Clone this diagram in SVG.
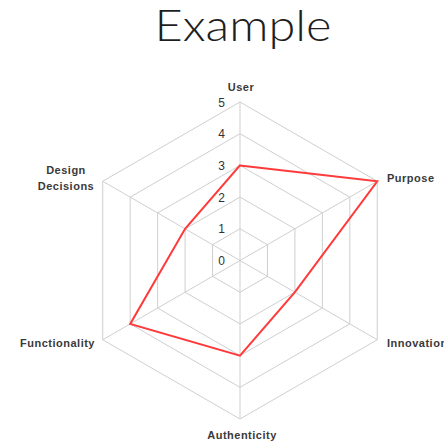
<svg xmlns="http://www.w3.org/2000/svg" width="444" height="443" viewBox="0 0 444 443">
  <style>
    .grid { fill: none; stroke: #cfcfcf; stroke-width: 1; }
    .series { fill: none; stroke: #ff3a3a; stroke-width: 2; stroke-linejoin: miter; }
    .axis-label { font-family: "Liberation Sans", Arial, sans-serif; font-size: 11px; font-weight: bold; fill: #3a3a3a; letter-spacing: 0.5px; }
    .tick { font-family: "Liberation Sans", Arial, sans-serif; font-size: 12px; fill: #333; text-anchor: end; }
    .title { font-family: "Lato", "DejaVu Sans", sans-serif; font-weight: 300; font-size: 43px; fill: #1e1e1e; text-anchor: middle; }
  </style>
  <rect width="444" height="443" fill="#ffffff"/>

  <!-- title -->
  <text class="title" x="243" y="40.7" textLength="177" lengthAdjust="spacingAndGlyphs">Example</text>

  <!-- radar grid: five hexagon rings and six spokes -->
  <g id="grid">
    <polygon class="grid" points="240,228.8 267.45,244.65 267.45,276.35 240,292.2 212.55,276.35 212.55,244.65"/>
    <polygon class="grid" points="240,197.1 294.91,228.8 294.91,292.2 240,323.9 185.09,292.2 185.09,228.8"/>
    <polygon class="grid" points="240,165.4 322.36,212.95 322.36,308.05 240,355.6 157.64,308.05 157.64,212.95"/>
    <polygon class="grid" points="240,133.7 349.81,197.1 349.81,323.9 240,387.3 130.19,323.9 130.19,197.1"/>
    <polygon class="grid" points="240,102 377.26,181.25 377.26,339.75 240,419 102.74,339.75 102.74,181.25"/>
    <path class="grid" d="M240,260.5 L240,102 M240,260.5 L377.26,181.25 M240,260.5 L377.26,339.75 M240,260.5 L240,419 M240,260.5 L102.74,339.75 M240,260.5 L102.74,181.25"/>
  </g>

  <!-- scale ticks along the top spoke -->
  <g id="ticks">
    <text class="tick" x="225" y="265">0</text>
    <text class="tick" x="225" y="233.3">1</text>
    <text class="tick" x="225" y="201.6">2</text>
    <text class="tick" x="225" y="169.9">3</text>
    <text class="tick" x="225" y="138.2">4</text>
    <text class="tick" x="225" y="106.5">5</text>
  </g>

  <!-- data series -->
  <g id="series">
    <polygon class="series" points="240,165.4 377.26,181.25 294.91,292.2 240,355.6 130.19,323.9 185.09,228.8"/>
  </g>

  <!-- axis labels -->
  <g id="axis-user"><text class="axis-label" x="241" y="91" text-anchor="middle">User</text></g>
  <g id="axis-purpose"><text class="axis-label" x="387" y="181.5">Purpose</text></g>
  <g id="axis-innovation"><text class="axis-label" x="387" y="347">Innovation</text></g>
  <g id="axis-authenticity"><text class="axis-label" x="242" y="439" text-anchor="middle">Authenticity</text></g>
  <g id="axis-functionality"><text class="axis-label" x="95" y="347" text-anchor="end">Functionality</text></g>
  <g id="axis-design">
    <text class="axis-label" x="66" y="174" text-anchor="middle">Design</text>
    <text class="axis-label" x="66" y="190" text-anchor="middle">Decisions</text>
  </g>
</svg>
